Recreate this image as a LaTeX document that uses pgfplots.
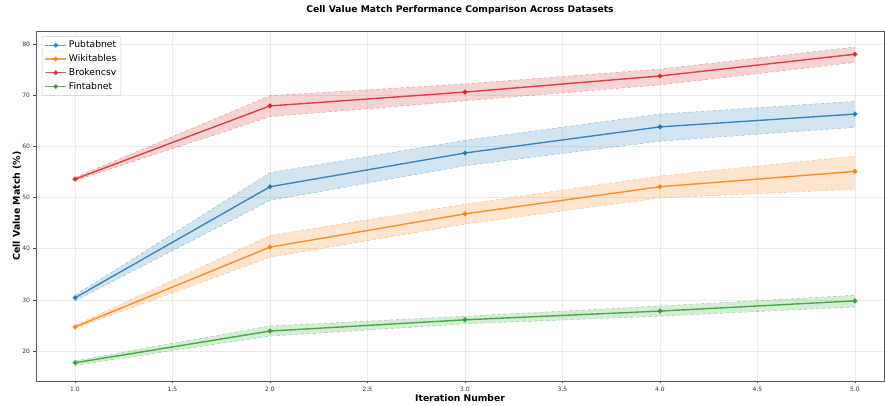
\documentclass[border=0pt]{standalone}
\usepackage{fontspec}
\setmainfont{DejaVu Sans}
\usepackage{pgfplots}
\pgfplotsset{compat=1.18}
\definecolor{cA}{HTML}{1F77B4}
\definecolor{cB}{HTML}{FF7F0E}
\definecolor{cC}{HTML}{D62728}
\definecolor{cD}{HTML}{2CA02C}
\begin{document}
\begin{tikzpicture}[x=1pt,y=1pt]
\path[use as bounding box] (-36,-25) rectangle (849,381);
\begin{axis}[at={(0,0)},anchor=south west,
  scale only axis, width=848pt, height=350pt,
  xmin=0.8, xmax=5.149, ymin=14.14, ymax=82.54,
  xtick={1,1.5,2,2.5,3,3.5,4,4.5,5},
  ytick={20,30,40,50,60,70,80},
  xtick pos=bottom, ytick pos=left,
  xticklabel style={/pgf/number format/.cd,fixed,fixed zerofill,precision=1},
  /pgf/number format/assume math mode=true,
  tick label style={font=\fontsize{6}{7}\selectfont, text=black!80},
  tick align=outside, major tick length=2.5pt,
  tick style={black!70, line width=0.5pt},
  axis line style={black!65, line width=0.7pt},
  grid=major, major grid style={black!8, line width=0.6pt},
  title={\bfseries Cell Value Match Performance Comparison Across Datasets},
  title style={font=\fontsize{9.2}{11}\selectfont, at={(axis description cs:0.5,1)}, anchor=center, yshift=15pt},
  xlabel={\bfseries Iteration Number},
  ylabel={\bfseries Cell Value Match (\%)},
  xlabel style={font=\fontsize{9.2}{11}\selectfont, at={(axis description cs:0.5,0)}, anchor=center, yshift=-17pt},
  ylabel style={font=\fontsize{9.4}{11}\selectfont, at={(axis description cs:0,0.5)}, anchor=center, yshift=19pt},
  legend style={at={(axis description cs:0.007,0.985)}, anchor=north west, draw=black!20, rounded corners=2pt, fill=white, font=\fontsize{9.2}{11}\selectfont, row sep=1.3pt, inner sep=2.5pt},
  legend cell align=left,
  legend image code/.code={\draw[mark repeat=2,mark phase=2, line width=1.3pt, opacity=0.75] plot coordinates {(0pt,0pt) (10.5pt,0pt) (21pt,0pt)};},
]
% bands
\addplot[forget plot, fill=cA, fill opacity=0.2, draw=none] coordinates {(1,30.9) (2,54.85) (3,61.2) (4,66.3) (5,68.8) (5,63.7) (4,61.0) (3,56.2) (2,49.4) (1,29.8)} -- cycle;
\addplot[forget plot, cA, opacity=0.5, dashed, line width=0.4pt] coordinates {(1,30.9) (2,54.85) (3,61.2) (4,66.3) (5,68.8)};
\addplot[forget plot, cA, opacity=0.5, dashed, line width=0.4pt] coordinates {(1,29.8) (2,49.4) (3,56.2) (4,61.0) (5,63.7)};
\addplot[forget plot, fill=cB, fill opacity=0.2, draw=none] coordinates {(1,25.0) (2,42.6) (3,48.7) (4,54.2) (5,58.1) (5,51.6) (4,49.9) (3,44.8) (2,38.3) (1,24.4)} -- cycle;
\addplot[forget plot, cB, opacity=0.5, dashed, line width=0.4pt] coordinates {(1,25.0) (2,42.6) (3,48.7) (4,54.2) (5,58.1)};
\addplot[forget plot, cB, opacity=0.5, dashed, line width=0.4pt] coordinates {(1,24.4) (2,38.3) (3,44.8) (4,49.9) (5,51.6)};
\addplot[forget plot, fill=cC, fill opacity=0.2, draw=none] coordinates {(1,53.9) (2,69.9) (3,72.2) (4,75.1) (5,79.4) (5,76.4) (4,72.0) (3,68.9) (2,65.8) (1,53.3)} -- cycle;
\addplot[forget plot, cC, opacity=0.5, dashed, line width=0.4pt] coordinates {(1,53.9) (2,69.9) (3,72.2) (4,75.1) (5,79.4)};
\addplot[forget plot, cC, opacity=0.5, dashed, line width=0.4pt] coordinates {(1,53.3) (2,65.8) (3,68.9) (4,72.0) (5,76.4)};
\addplot[forget plot, fill=cD, fill opacity=0.2, draw=none] coordinates {(1,18.1) (2,24.9) (3,26.8) (4,28.8) (5,30.9) (5,28.6) (4,26.8) (3,25.3) (2,22.9) (1,17.2)} -- cycle;
\addplot[forget plot, cD, opacity=0.5, dashed, line width=0.4pt] coordinates {(1,18.1) (2,24.9) (3,26.8) (4,28.8) (5,30.9)};
\addplot[forget plot, cD, opacity=0.5, dashed, line width=0.4pt] coordinates {(1,17.2) (2,22.9) (3,25.3) (4,26.8) (5,28.6)};
% lines
\addplot[cA, line width=1.4pt, mark=*, mark size=1.7pt, opacity=0.85] coordinates {(1,30.4) (2,52.1) (3,58.7) (4,63.8) (5,66.3)};
\addlegendentry{Pubtabnet}
\addplot[cB, line width=1.4pt, mark=*, mark size=1.7pt, opacity=0.85] coordinates {(1,24.7) (2,40.3) (3,46.8) (4,52.1) (5,55.1)};
\addlegendentry{Wikitables}
\addplot[cC, line width=1.4pt, mark=*, mark size=1.7pt, opacity=0.85] coordinates {(1,53.6) (2,67.9) (3,70.6) (4,73.75) (5,78.0)};
\addlegendentry{Brokencsv}
\addplot[cD, line width=1.4pt, mark=*, mark size=1.7pt, opacity=0.85] coordinates {(1,17.7) (2,23.9) (3,26.1) (4,27.8) (5,29.8)};
\addlegendentry{Fintabnet}
\end{axis}
\end{tikzpicture}
\end{document}
